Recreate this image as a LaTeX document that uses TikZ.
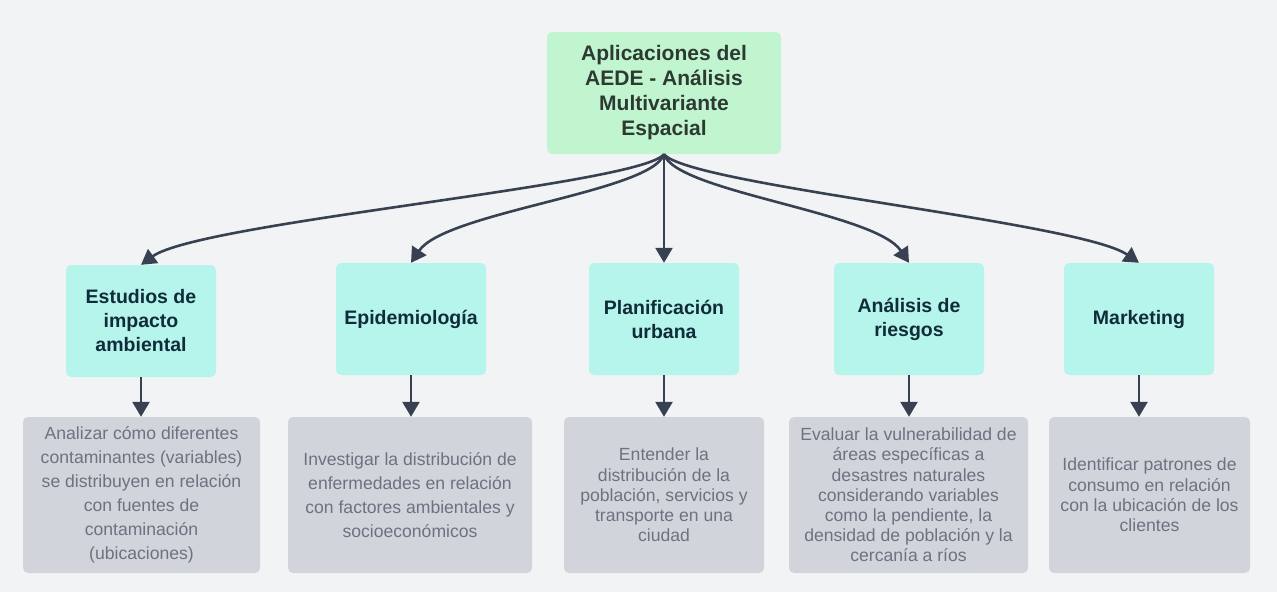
\documentclass[tikz,border=0pt]{standalone}
\usepackage{fontspec}
\setmainfont{Liberation Sans}
\usetikzlibrary{arrows.meta}
\definecolor{fondo}{RGB}{242,243,245}
\definecolor{verde}{RGB}{193,245,208}
\definecolor{turquesa}{RGB}{181,245,236}
\definecolor{grisclaro}{RGB}{209,213,219}
\definecolor{textoraiz}{RGB}{45,58,50}
\definecolor{textotema}{RGB}{16,44,58}
\definecolor{textogris}{RGB}{107,114,128}
\definecolor{flecha}{RGB}{55,65,81}
\tikzset{
  raiz/.style={fill=verde,rounded corners=5pt,minimum width=234pt,minimum height=122pt,inner ysep=0pt,align=center,text=textoraiz,font=\fontsize{21}{25}\selectfont\bfseries},
  tema/.style={fill=turquesa,rounded corners=5pt,minimum width=150pt,minimum height=112pt,inner ysep=0pt,align=center,text=textotema,font=\fontsize{19.5}{24}\selectfont\bfseries},
  detalle/.style={fill=grisclaro,rounded corners=5pt,minimum height=156pt,inner ysep=0pt,align=center,text=textogris,font=\fontsize{17.6}{24}\selectfont},
  apretado/.style={font=\fontsize{17.6}{20.2}\selectfont},
  conector/.style={draw=flecha,line width=2.6pt,-{Triangle[width=17pt,length=15pt]}}
}
\begin{document}
\begin{tikzpicture}[x=1pt,y=-1pt]
\fill[fondo] (0,0) rectangle (1277,592);
\useasboundingbox (0,0) rectangle (1277,592);
% nodo central
\node[raiz] (aede) at (664,93) {Aplicaciones del\\AEDE - Análisis\\Multivariante\\Espacial};
% temas
\node[tema] (impacto) at (141,321) {Estudios de\\impacto\\ambiental};
\node[tema] (epidemio) at (411,319) {Epidemiología};
\node[tema] (urbana) at (664,319) {Planificación\\urbana};
\node[tema] (riesgos) at (909,319) {Análisis de\\riesgos};
\node[tema] (marketing) at (1139,319) {Marketing};
% descripciones
\node[detalle,minimum width=237pt] (dimpacto) at (141.5,495) {Analizar cómo diferentes\\contaminantes (variables)\\se distribuyen en relación\\con fuentes de\\contaminación\\(ubicaciones)};
\node[detalle,minimum width=244pt] (depidemio) at (410,495) {Investigar la distribución de\\enfermedades en relación\\con factores ambientales y\\socioeconómicos};
\node[detalle,apretado,minimum width=200pt] (durbana) at (664,495) {Entender la\\distribución de la\\población, servicios y\\transporte en una\\ciudad};
\node[detalle,apretado,minimum width=239pt] (driesgos) at (908.5,495) {Evaluar la vulnerabilidad de\\áreas específicas a\\desastres naturales\\considerando variables\\como la pendiente, la\\densidad de población y la\\cercanía a ríos};
\node[detalle,apretado,minimum width=201pt] (dmarketing) at (1149.5,495) {Identificar patrones de\\consumo en relación\\con la ubicación de los\\clientes};
% conectores desde el nodo central
\draw[conector] (aede.south) .. controls (640,185) and (200,222) .. (impacto.north);
\draw[conector] (aede.south) .. controls (652,192) and (445,212) .. (epidemio.north);
\draw[conector] (aede.south) -- (urbana.north);
\draw[conector] (aede.south) .. controls (676,192) and (875,212) .. (riesgos.north);
\draw[conector] (aede.south) .. controls (688,185) and (1080,222) .. (marketing.north);
% conectores hacia las descripciones
\foreach \t/\d in {impacto/dimpacto,epidemio/depidemio,urbana/durbana,riesgos/driesgos,marketing/dmarketing}
  \draw[conector] (\t.south) -- (\t.south |- \d.north);
\end{tikzpicture}
\end{document}
